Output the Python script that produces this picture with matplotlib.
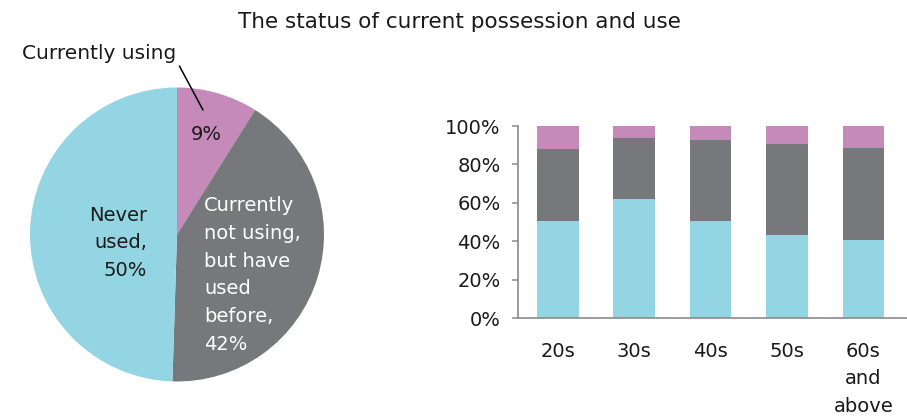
import matplotlib
matplotlib.use("Agg")
import matplotlib.pyplot as plt
import numpy as np

# overall status (pie)
pie_labels = ["Currently using",
              "Currently\nnot using,\nbut have\nused\nbefore,",
              "Never\nused,"]
pie_values = [9, 42, 50]

# status by age group (stacked bars, % of respondents)
ages = ["20s", "30s", "40s", "50s", "60s\nand\nabove"]
never_used = [50.5, 62, 50.5, 43, 40.5]
used_before = [37.5, 32, 42, 47.5, 48]
using_now = [12, 6, 7.5, 9.5, 11.5]

c_using = "#c58aba"
c_before = "#77787c"
c_never = "#93d5e2"
txt = "#1a1a1a"

plt.rcParams["font.family"] = ["DejaVu Sans"]
plt.rcParams["font.size"] = 14

W, H = 907, 416
fig = plt.figure(figsize=(W / 100, H / 100), dpi=100)

fig.text(459 / W, 1 - 22 / H, "The status of current possession and use",
         ha="center", va="center", fontsize=15.5, color=txt)

# ---- pie ----
R = 147
cx, cy = 177, 234.5
pa = fig.add_axes([(cx - R) / W, (H - cy - R) / H, 2 * R / W, 2 * R / H])
pa.pie(pie_values, colors=[c_using, c_before, c_never], startangle=90,
       counterclock=False, radius=1)
pa.set_xlim(-1, 1)
pa.set_ylim(-1, 1)


def px(x, y):
    return ((x - cx) / R, (cy - y) / R)


pa.text(*px(206, 134), f"{pie_values[0]}%", ha="center", va="center",
        fontsize=14, color=txt)
pa.text(*px(204, 275), f"{pie_labels[1]}\n{pie_values[1]}%", ha="left",
        va="center", fontsize=14, color="white", linespacing=1.58)
pa.text(*px(147, 243), f"{pie_labels[2]}\n{pie_values[2]}%", ha="right",
        va="center", multialignment="right", fontsize=14, color=txt,
        linespacing=1.58)
pa.annotate(pie_labels[0], xy=px(203, 110), xytext=px(176, 53),
            ha="right", va="center", fontsize=14.5, color=txt,
            annotation_clip=False,
            arrowprops=dict(arrowstyle="-", color="black", lw=1.1,
                            shrinkA=1, shrinkB=0, relpos=(1.0, 0.15)))

# ---- stacked bars ----
ba = fig.add_axes([518 / W, (H - 318) / H, (W - 518) / W, 192 / H])
x = np.arange(len(ages))
bw = 0.545
ba.bar(x, never_used, bw, color=c_never)
ba.bar(x, used_before, bw, bottom=never_used, color=c_before)
ba.bar(x, using_now, bw, bottom=np.add(never_used, used_before), color=c_using)

ba.set_xlim(-0.52, 4.57)
ba.set_ylim(0, 100)
ba.set_yticks(range(0, 101, 20))
ba.set_yticklabels([f"{v}%" for v in range(0, 101, 20)], color=txt)
ba.set_xticks(x)
ba.set_xticklabels(ages, color=txt, linespacing=1.58, va="top")
for side in ("top", "right"):
    ba.spines[side].set_visible(False)
for side in ("left", "bottom"):
    ba.spines[side].set_color("#8a8a8a")
    ba.spines[side].set_linewidth(1.2)
ba.tick_params(axis="y", length=4.5, width=1.1, color="#8a8a8a", pad=8,
               labelsize=14)
ba.tick_params(axis="x", length=0, pad=17, labelsize=14)

fig.savefig("out.png", dpi=100)
